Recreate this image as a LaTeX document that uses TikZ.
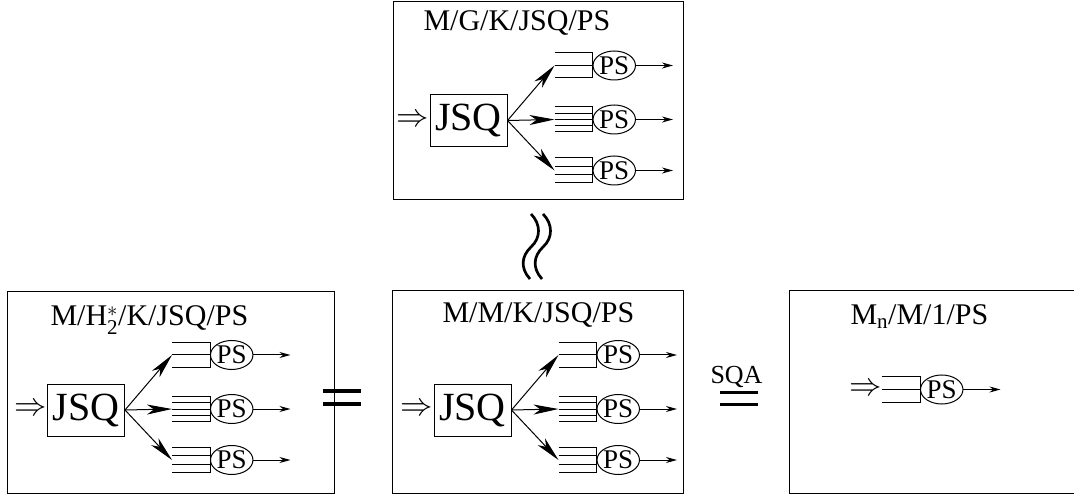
\documentclass[tikz,border=0pt]{standalone}
\usepackage{fontspec}
\setmainfont{Liberation Serif}
\usepackage{amsmath}
\usetikzlibrary{arrows.meta,positioning,calc,shapes.geometric}

\tikzset{
  jsqbox/.style={draw, minimum width=77pt, minimum height=52pt, inner sep=0pt, font=\fontsize{40}{40}\selectfont},
  psnode/.style={draw, ellipse, minimum width=36pt, minimum height=29pt, inner sep=0pt, font=\fontsize{27}{27}\selectfont},
  qbox/.style={minimum width=37pt, minimum height=24pt, inner sep=0pt},
  titlelbl/.style={anchor=base west, inner sep=0pt, font=\fontsize{30}{30}\selectfont},
  inarrow/.style={inner sep=0pt, font=\fontsize{24}{24}\selectfont},
  splitarr/.style={-{Stealth[length=25pt,width=10pt,inset=7pt]}},
  outarr/.style={-{Stealth[length=11pt,width=6pt]}},
  eqbar/.style={line width=3.8pt},
}
\newcommand\dblarrow{\scalebox{1.3}{$\Rightarrow$}}

% queue: frame plus #2 inner lines
\newcommand\queuelines[2]{%
  \draw (#1.north west) -- (#1.north east) -- (#1.south east) -- (#1.south west);
  \foreach \k [evaluate=\k as \f using \k/(#2+1)] in {1,...,#2}
    \draw ($(#1.north west)!\f!(#1.south west)$) -- ($(#1.north east)!\f!(#1.south east)$);
}

% JSQ dispatcher with three PS servers, #1 prefix, (#2,#3) centre of JSQ box
\newcommand\jsqsystem[3]{%
  \node[jsqbox] (#1j) at (#2,#3) {JSQ};
  \node[inarrow, left=0pt of #1j] (#1in) {\dblarrow};
  \node[qbox] (#1q1) at (#2+105,#3-55) {};
  \node[qbox] (#1q2) at (#2+105,#3-1) {};
  \node[qbox] (#1q3) at (#2+105,#3+50) {};
  \queuelines{#1q1}{1}
  \queuelines{#1q2}{3}
  \queuelines{#1q3}{2}
  \foreach \i in {1,2,3} {
    \node[psnode, right=0pt of #1q\i] (#1p\i) {PS};
    \coordinate[right=37pt of #1p\i] (#1o\i);
    \draw[splitarr] (#1j.east) -- (#1q\i.west);
    \draw[outarr] (#1p\i) -- (#1o\i);
  }
}

\begin{document}
\begin{tikzpicture}[x=1pt, y=-1pt, line width=1pt]
  \useasboundingbox (0,0) rectangle (1074,494);

  % top: M/G/K
  \draw (393,2) rectangle (683,200);
  \node[titlelbl] (tt) at (423,31) {M/G/K/JSQ/PS};
  \jsqsystem{T}{468.5}{120.5}

  % approx sign
  \foreach \dx in {0,12}
    \draw[line width=2.7pt] (531+\dx,214) .. controls (541+\dx,224) and (541+\dx,238) .. (531+\dx,247)
      .. controls (521.5+\dx,256) and (520+\dx,268) .. (530+\dx,279);

  % bottom left: M/H2*/K
  \draw (7,292) rectangle (334,493);
  \node[titlelbl] (lt) at (50,326) {M/H$_{\text{2}}^{*}$/K/JSQ/PS};
  \jsqsystem{L}{86}{410}

  \draw[eqbar] (323,391) -- (361,391);
  \draw[eqbar] (323,404) -- (361,404);

  % bottom middle: M/M/K
  \draw (392,291) rectangle (683,493);
  \node[titlelbl] (mt) at (442,323) {M/M/K/JSQ/PS};
  \jsqsystem{M}{472.5}{410}

  \node[anchor=base west, inner sep=0pt, font=\fontsize{26}{26}\selectfont] (sqa) at (710,383) {SQA};
  \draw[eqbar] (720,392.5) -- (758,392.5);
  \draw[eqbar] (720,404.5) -- (758,404.5);

  % bottom right: Mn/M/1
  \draw (789,291) rectangle (1090,493);
  \node[titlelbl] (rt) at (850,325) {M\textsubscript{n}/M/1/PS};
  \node[qbox, minimum height=25pt] (Rq) at (901,389.5) {};
  \queuelines{Rq}{1}
  \node[inarrow, left=0pt of Rq] (Rin) {\dblarrow};
  \node[psnode, right=0pt of Rq] (Rp) {PS};
  \coordinate[right=37pt of Rp] (Ro);
  \draw[outarr] (Rp) -- (Ro);
\end{tikzpicture}
\end{document}
